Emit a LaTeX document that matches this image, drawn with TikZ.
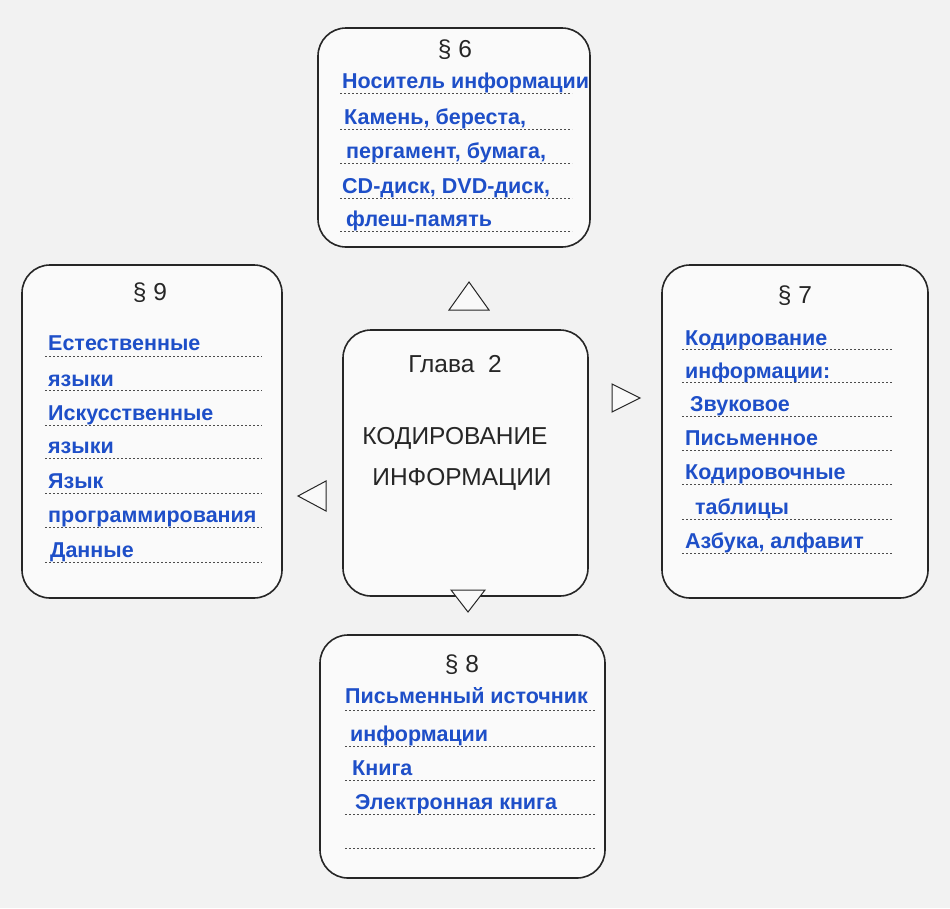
\documentclass[tikz,border=0pt]{standalone}
\usepackage{fontspec}
\setmainfont{Liberation Sans}
\definecolor{bl}{HTML}{1E4FC8}
\begin{document}
\begin{tikzpicture}[x=1pt,y=-1pt,
  box/.style={draw=black!85,line width=1.6pt,rounded corners=28pt},
  bt/.style={anchor=base west,text=bl,font=\bfseries\fontsize{21.5}{24}\selectfont,inner sep=0pt},
  tt/.style={font=\fontsize{24.5}{28}\selectfont,text=black!85},
  dl/.style={dash pattern=on 2pt off 2pt,line width=0.6pt,black!70},
  tri/.style={draw=black!85,line width=1pt,fill=white!95!gray}]
\fill[white!90!gray] (0,0) rectangle (950,908);
\useasboundingbox (0,0) rectangle (950,908);
% boxes
\draw[box,fill=white!96!gray] (318,28) rectangle (590,247);
\draw[box,fill=white!96!gray] (22,265) rectangle (282,598);
\draw[box,fill=white!96!gray] (343,330) rectangle (588,596);
\draw[box,fill=white!96!gray] (662,265) rectangle (928,598);
\draw[box,fill=white!96!gray] (320,635) rectangle (605,878);
% titles
\node[tt] (t6) at (455,50) {\S\ 6};
\node[tt] (t9) at (150,293) {\S\ 9};
\node[tt] (t7) at (795,296) {\S\ 7};
\node[tt] (t8) at (462,665) {\S\ 8};
\node[tt] (g2) at (455,364) {Глава\ \ 2};
\node[tt] (k1) at (455,438) {КОДИРОВАНИЕ};
\node[tt] (k2) at (462,479) {ИНФОРМАЦИИ};
% §6
\foreach \t/\x/\y/\n in {Носитель информации/342/88/a1,{Камень, береста,}/344/124/a2,{пергамент, бумага,}/346/158/a3,{CD-диск, DVD-диск,}/342/193/a4,флеш-память/346/226/a5}
  {\node[bt] (\n) at (\x,\y) {\t};}
\foreach \y in {93,129,163,198,231} \draw[dl] (340,\y) -- (572,\y);
% §9
\foreach \t/\x/\y/\n in {Естественные/48/350/b1,языки/48/386/b2,Искусственные/48/420/b3,языки/48/453/b4,Язык/48/488/b5,программирования/48/522/b6,Данные/50/557/b7}
  {\node[bt] (\n) at (\x,\y) {\t};}
\foreach \y in {356,390,425,458,493,527,562} \draw[dl] (45,\y) -- (262,\y);
% §7
\foreach \t/\x/\y/\n in {Кодирование/685/345/c1,информации:/685/378/c2,Звуковое/690/411/c3,Письменное/685/445/c4,Кодировочные/685/479/c5,таблицы/695/514/c6,{Азбука, алфавит}/685/548/c7}
  {\node[bt] (\n) at (\x,\y) {\t};}
\foreach \y in {349,382,416,450,484,519,553} \draw[dl] (682,\y) -- (893,\y);
% §8
\foreach \t/\x/\y/\n in {Письменный источник/345/703/d1,информации/350/741/d2,Книга/352/775/d3,Электронная книга/355/809/d4}
  {\node[bt] (\n) at (\x,\y) {\t};}
\foreach \y in {710,746,780,814,848} \draw[dl] (345,\y) -- (595,\y);
% triangles
\draw[tri] (449,310) -- (469,282) -- (489,310) -- cycle;
\draw[tri] (612,384) -- (640,398) -- (612,412) -- cycle;
\draw[tri] (326,481) -- (298,496) -- (326,511) -- cycle;
\draw[tri] (451,590) -- (485,590) -- (468,612) -- cycle;
\end{tikzpicture}
\end{document}
